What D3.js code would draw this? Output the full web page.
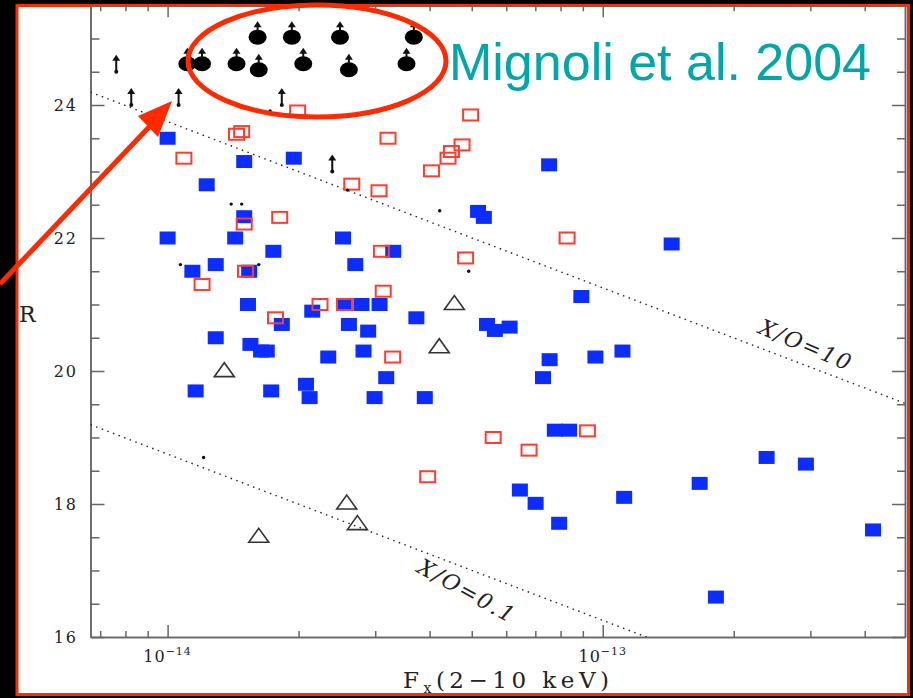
<!DOCTYPE html>
<html>
<head>
<meta charset="utf-8">
<script src="https://cdnjs.cloudflare.com/ajax/libs/d3/7.8.5/d3.min.js"></script>
<style>
	body { margin: 0; background: #000; }
	svg { display: block; }
	.axis path, .axis line { stroke: #666; stroke-width: 1.5; }
	.lbl { font-family: "DejaVu Serif", serif; fill: #222; }
</style>
</head>
<body>
<div id="visDiv"></div>
<script>
// fluxes are in units of 1e-14 erg/cm2/s, R in mag
var blueFx = [1.00, 1.50, 1.95, 1.23, 1.50, 1.00, 1.43, 2.53, 1.75, 3.30, 1.29, 1.14, 1.54, 2.70, 5.17, 5.33,
	1.53, 2.15, 2.56, 2.79, 3.07, 1.83, 2.61, 2.89, 3.73, 5.42, 5.65, 6.11, 1.29, 1.55, 1.64, 1.69, 2.34, 2.82,
	3.18, 1.16, 1.73, 2.08, 2.12, 2.99, 3.90, 7.53, 14.4, 8.93, 7.55, 7.29, 9.62, 11.1, 7.76, 8.37, 6.45, 7.01,
	7.94, 11.2, 16.7, 23.8, 29.3, 41.8, 18.2];
var blueR = [23.50, 23.15, 23.20, 22.80, 22.32, 22.00, 22.00, 22.00, 21.80, 21.80, 21.60, 21.50, 21.50, 21.60, 22.40, 22.31,
	21.00, 20.90, 21.00, 21.00, 21.00, 20.70, 20.70, 20.60, 20.80, 20.70, 20.61, 20.66, 20.50, 20.40, 20.30, 20.30, 20.21, 20.30,
	19.90, 19.70, 19.70, 19.80, 19.60, 19.60, 19.60, 23.10, 21.91, 21.12, 20.17, 19.90, 20.21, 20.30, 19.11, 19.11, 18.21, 18.01,
	17.71, 18.10, 18.31, 18.70, 18.60, 17.61, 16.60];

var redFx = [1.99, 4.97, 1.44, 1.48, 3.21, 1.09, 4.75, 4.49, 4.41, 4.04, 2.65, 3.06, 1.81, 1.50,
	3.10, 4.84, 8.28, 1.51, 1.20, 3.13, 2.24, 2.55, 1.77, 3.29, 5.60, 6.77, 3.96, 9.22];
var redR = [23.91, 23.85, 23.56, 23.60, 23.50, 23.20, 23.40, 23.30, 23.20, 23.01, 22.81, 22.71, 22.31, 22.21,
	21.80, 21.70, 22.00, 21.50, 21.30, 21.20, 21.00, 21.00, 20.80, 20.21, 19.00, 18.81, 18.41, 19.10];

var triFx = [4.56, 4.21, 1.35, 2.58, 2.73, 1.62];
var triR = [21.03, 20.38, 20.02, 18.03, 17.72, 17.53];

var dotFx = [1.40, 1.48, 4.22, 1.07, 1.62, 4.92, 1.21, 2.59, 1.72];
var dotR = [22.51, 22.51, 22.41, 21.60, 21.60, 21.50, 18.70, 22.72, 23.91];

// lower limits (arrows only)
var limFx = [0.762, 0.825, 1.06, 1.83, 2.39];
var limR = [24.50, 24.00, 24.00, 24.00, 23.00];

// Mignoli et al. 2004 objects (filled, lower limits)
var migFx = [1.61, 1.93, 2.49, 3.68, 1.11, 1.20, 1.44, 1.62, 2.05, 2.61, 3.54];
var migR = [25.02, 25.02, 25.02, 25.02, 24.62, 24.62, 24.62, 24.53, 24.62, 24.53, 24.62];

var xoRatios = [10, 0.1];
var xoLabels = ["X/O=10", "X/O=0.1"];

var xMajor = [1, 10];
var xMinor = [0.7, 0.8, 0.9, 2, 3, 4, 5, 6, 7, 8, 9, 20, 30, 40];
var yMajor = [16, 18, 20, 22, 24];
var yMinor = d3.range(16.5, 25.5, 0.5).filter(function(v) { return v % 2 !== 0; });

var W = 913, H = 698,
	L = 90.5, Rt = 905, T = 5.25, B = 637;

var svg = d3.select('#visDiv')
	.append('svg')
		.attr('width', W)
		.attr('height', H);

// frame
svg.append('rect')
	.attr('x', 17).attr('y', 5.5)
	.attr('width', 891.5).attr('height', 689)
	.attr('fill', '#fff')
	.attr('stroke', '#ff2a00')
	.attr('stroke-width', 3);

var x = d3.scaleLog().domain([0.665, 49.5]).range([L, Rt]);
var y = d3.scaleLinear().domain([16, 25.5]).range([B, T]);

svg.append('clipPath').attr('id', 'clip')
	.append('rect').attr('x', L).attr('y', T).attr('width', Rt - L).attr('height', B - T);

// axes: ticks point inward
function tickAxis(gen, tr, vals, size) {
	svg.append('g')
		.attr('class', 'axis')
		.attr('transform', tr)
		.call(gen.tickValues(vals).tickSize(size).tickSizeOuter(0).tickFormat(''));
}
tickAxis(d3.axisBottom(x), 'translate(0,' + B + ')', xMinor, -6);
tickAxis(d3.axisBottom(x), 'translate(0,' + B + ')', xMajor, -12);
tickAxis(d3.axisTop(x), 'translate(0,' + T + ')', xMinor, -6);
tickAxis(d3.axisTop(x), 'translate(0,' + T + ')', xMajor, -12);
tickAxis(d3.axisLeft(y), 'translate(' + L + ',0)', yMinor, -9);
tickAxis(d3.axisLeft(y), 'translate(' + L + ',0)', yMajor, -14);
tickAxis(d3.axisRight(y), 'translate(' + Rt + ',0)', yMinor, -8);
tickAxis(d3.axisRight(y), 'translate(' + Rt + ',0)', yMajor, -13);

// tick labels
var xl = svg.selectAll('.xlab').data(xMajor).enter()
	.append('text')
		.attr('class', 'lbl')
		.attr('x', function(d) { return x(d); })
		.attr('y', 662)
		.attr('text-anchor', 'middle')
		.style('font-size', '16px')
		.style('letter-spacing', '1px');
xl.append('tspan').text('10');
xl.append('tspan')
	.attr('dy', -7)
	.style('font-size', '11px')
	.text(function(d) { return '\u2212' + (14 - Math.round(Math.log10(d))); });

svg.selectAll('.ylab').data(yMajor).enter()
	.append('text')
		.attr('class', 'lbl')
		.attr('x', 78)
		.attr('y', function(d) { return y(d) + 6; })
		.attr('text-anchor', 'end')
		.style('font-size', '16px')
		.style('letter-spacing', '2px')
		.text(function(d) { return d; });

// axis titles
var xt = svg.append('text')
	.attr('class', 'lbl')
	.attr('x', 403).attr('y', 688)
	.style('font-size', '23px')
	.style('letter-spacing', '4.5px');
xt.append('tspan').text('F');
xt.append('tspan').attr('dy', 5).style('font-size', '14px').text('x');
xt.append('tspan').attr('dy', -5).text('(2\u221210 keV)');

svg.append('text')
	.attr('class', 'lbl')
	.attr('x', 19).attr('y', 322)
	.style('font-size', '22px')
	.text('R');

// X/O lines: R = 2.5*(log(X/O) - log(fx) - 5.5)
var plot = svg.append('g').attr('clip-path', 'url(#clip)');
var fxEnds = x.domain();
var xoLine = d3.line()
	.x(function(d) { return x(d[0]); })
	.y(function(d) { return y(d[1]); });
xoRatios.forEach(function(r) {
	var pts = fxEnds.map(function(f) {
		return [f, 2.5 * (Math.log10(r) - Math.log10(f * 1e-14) - 5.5)];
	});
	plot.append('path')
		.attr('d', xoLine(pts))
		.attr('fill', 'none')
		.attr('stroke', '#222')
		.attr('stroke-width', 1.4)
		.attr('stroke-dasharray', '1.5,4.5');
});

var xoPos = [[806, 345, 23], [467, 591, 29]];
xoLabels.forEach(function(t, i) {
	svg.append('text')
		.attr('class', 'lbl')
		.attr('transform', 'translate(' + xoPos[i][0] + ',' + xoPos[i][1] + ') rotate(' + xoPos[i][2] + ')')
		.attr('text-anchor', 'middle')
		.attr('dy', '0.35em')
		.style('font-size', '22px')
		.style('font-style', 'italic')
		.style('letter-spacing', '2px')
		.text(t);
});

// blue filled squares
plot.selectAll('.blue').data(d3.range(blueFx.length)).enter()
	.append('rect')
		.attr('x', function(i) { return x(blueFx[i]) - 8; })
		.attr('y', function(i) { return y(blueR[i]) - 6.5; })
		.attr('width', 16).attr('height', 13)
		.attr('fill', '#0b2dff');

// red open squares
plot.selectAll('.red').data(d3.range(redFx.length)).enter()
	.append('rect')
		.attr('x', function(i) { return x(redFx[i]) - 7.5; })
		.attr('y', function(i) { return y(redR[i]) - 5.5; })
		.attr('width', 15).attr('height', 11)
		.attr('fill', 'none')
		.attr('stroke', '#ff3c2e')
		.attr('stroke-width', 2);

// open triangles
plot.selectAll('.tri').data(d3.range(triFx.length)).enter()
	.append('path')
		.attr('d', function(i) {
			var cx = x(triFx[i]), cy = y(triR[i]);
			return 'M' + (cx - 10) + ',' + (cy + 7) + 'L' + cx + ',' + (cy - 7) + 'L' + (cx + 10) + ',' + (cy + 7) + 'Z';
		})
		.attr('fill', 'none')
		.attr('stroke', '#333')
		.attr('stroke-width', 1.6);

// small dots
plot.selectAll('.dot').data(d3.range(dotFx.length)).enter()
	.append('circle')
		.attr('cx', function(i) { return x(dotFx[i]); })
		.attr('cy', function(i) { return y(dotR[i]); })
		.attr('r', 1.7)
		.attr('fill', '#111');

function shaft(cx, y0, y1) {
	return 'M' + cx + ',' + y0 + 'L' + cx + ',' + (y1 + 4);
}
function head(cx, y1) {
	return 'M' + (cx - 4) + ',' + (y1 + 6) + 'L' + cx + ',' + y1 + 'L' + (cx + 4) + ',' + (y1 + 6) + 'Z';
}

// lower limit arrows
function drawArrows(cls, fx, rr, off, len, dot) {
	var g = plot.append('g');
	g.selectAll('.' + cls + 's').data(d3.range(fx.length)).enter()
		.append('path')
			.attr('d', function(i) { var cy = y(rr[i]); return shaft(x(fx[i]), cy - off, cy - len); })
			.attr('stroke', '#111')
			.attr('stroke-width', 2);
	g.selectAll('.' + cls + 'h').data(d3.range(fx.length)).enter()
		.append('path')
			.attr('d', function(i) { return head(x(fx[i]), y(rr[i]) - len); })
			.attr('fill', '#111');
	if (dot) {
		g.selectAll('.' + cls + 'd').data(d3.range(fx.length)).enter()
			.append('circle')
				.attr('cx', function(i) { return x(fx[i]); })
				.attr('cy', function(i) { return y(rr[i]); })
				.attr('r', 2)
				.attr('fill', '#111');
	}
}
drawArrows('lim', limFx, limR, 0, 17, true);

// Mignoli objects
plot.selectAll('.mig').data(d3.range(migFx.length)).enter()
	.append('ellipse')
		.attr('cx', function(i) { return x(migFx[i]); })
		.attr('cy', function(i) { return y(migR[i]); })
		.attr('rx', 9).attr('ry', 7.5)
		.attr('fill', '#000');
drawArrows('mig', migFx, migR, 6, 16, false);

// annotation
svg.append('text')
	.attr('x', 449).attr('y', 80)
	.style('font-family', '"Liberation Sans", Arial, sans-serif')
	.style('font-size', '52px')
	.attr('fill', '#00a6a8')
	.text('Mignoli et al. 2004');

svg.append('ellipse')
	.attr('cx', 317).attr('cy', 61)
	.attr('rx', 129).attr('ry', 56)
	.attr('fill', 'none')
	.attr('stroke', '#ff2a00')
	.attr('stroke-width', 5);

svg.append('line')
	.attr('x1', 0).attr('y1', 284)
	.attr('x2', 150).attr('y2', 126)
	.attr('stroke', '#ff2a00')
	.attr('stroke-width', 5);
svg.append('path')
	.attr('d', 'M172,101 L138,116 L158,137 Z')
	.attr('fill', '#ff2a00');
</script>
</body>
</html>
